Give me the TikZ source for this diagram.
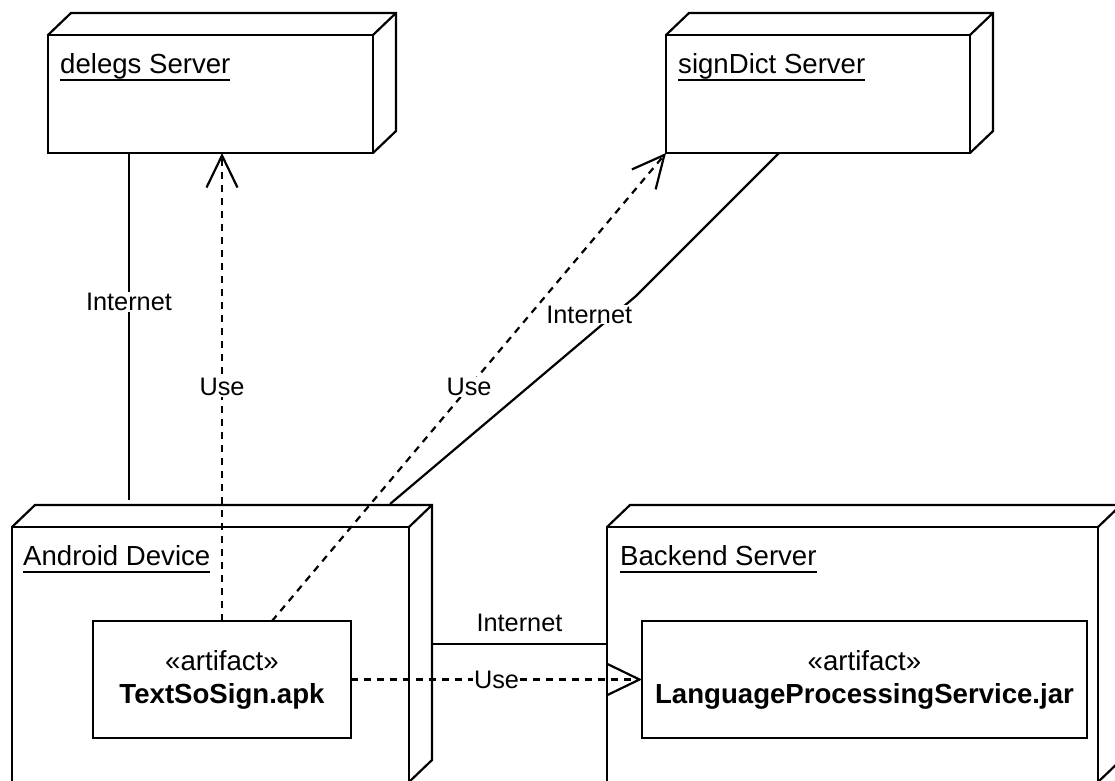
\documentclass[tikz,border=0pt]{standalone}
\usepackage{fontspec}
\setmainfont{Liberation Sans}
\usetikzlibrary{arrows.meta}
\newcommand\nodetitle[1]{\setbox0\hbox{#1}\rlap{\rule[-8pt]{\wd0}{2pt}}\box0}

\begin{document}
\begin{tikzpicture}[x=1pt, y=-1pt, line join=miter,
	box/.style={draw, line width=2.2pt},
	nodebox/.style={box, rectangle, inner sep=0pt, outer sep=0pt},
	title/.style={anchor=north west, inner sep=0pt, font=\fontsize{27.6}{33}\selectfont},
	artifact/.style={nodebox, align=center, font=\fontsize{27.6}{33}\selectfont},
	link/.style={line width=2.2pt},
	use/.style={link, dash pattern=on 7pt off 6pt, -{Straight Barb[length=32pt, width=31pt]}},
	lbl/.style={fill=white, inner sep=1pt, font=\fontsize{25.3}{30}\selectfont}]
	\useasboundingbox (0,0) rectangle (1115,780);
	\clip (0,0) rectangle (1115,780);

	% Nodes (front faces)
	\node[nodebox, minimum width=325pt, minimum height=118pt] (delegs) at (210.5,94) {};
	\node[nodebox, minimum width=304pt, minimum height=118pt] (signdict) at (818,94) {};
	\node[nodebox, minimum width=397pt, minimum height=255pt] (android) at (210.5,654.5) {};
	\node[nodebox, minimum width=491pt, minimum height=255pt] (backend) at (852.5,654.5) {};

	% Top and side faces
	\foreach \n in {delegs, signdict, android, backend} {
		\draw[box] (\n.north west) -- ++(23,-22) -- ([shift={(23,-22)}]\n.north east)
			-- ([shift={(23,-22)}]\n.south east) -- (\n.south east)
			(\n.north east) -- ++(23,-22);
	}

	% Node names
	\node[title] (delegsname) at ([shift={(12,18)}]delegs.north west) {\nodetitle{delegs Server}};
	\node[title] (signdictname) at ([shift={(12,18)}]signdict.north west) {\nodetitle{signDict Server}};
	\node[title] (androidname) at ([shift={(11,18)}]android.north west) {\nodetitle{Android Device}};
	\node[title] (backendname) at ([shift={(13,18)}]backend.north west) {\nodetitle{Backend Server}};

	% Artifacts
	\node[artifact, minimum width=258pt, minimum height=117pt] (apk) at (222,679.5) {«artifact»\\\textbf{TextSoSign.apk}};
	\node[artifact, minimum width=445pt, minimum height=117pt] (lps) at (864.5,679.5) {«artifact»\\\textbf{LanguageProcessingService.jar}};

	% Internet links
	\coordinate (andtop) at (129,500);
	\coordinate (andtip) at (390,504);
	\coordinate (bend) at (636,296);
	\coordinate (andright) at (432,644);
	\draw[link] (andtop |- delegs.south) -- (andtop) node[lbl, pos=0.43] {Internet};
	\draw[link] (andtip) -- (bend) node[lbl, pos=0.81, yshift=21pt] {Internet} -- ([xshift=-39pt]signdict.south);
	\draw[link] (andright) -- (andright -| backend.west) node[lbl, midway, above=10pt] {Internet};

	% Use dependencies
	\draw[use] (apk.north) -- (apk.north |- delegs.south) node[lbl, midway] {Use};
	\draw[use] ([xshift=50pt]apk.north) -- (signdict.south west) node[lbl, midway] {Use};
	\draw[use] (apk.east) -- (lps.west) node[lbl, midway] {Use};
\end{tikzpicture}
\end{document}
